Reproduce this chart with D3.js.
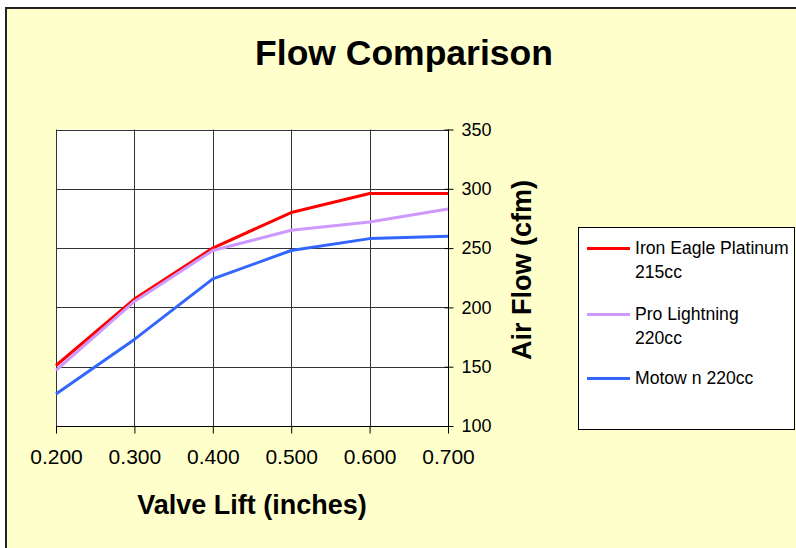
<!DOCTYPE html>
<html>
<head>
<meta charset="utf-8">
<script src="https://cdn.jsdelivr.net/npm/d3@7"></script>
<style>
  body { margin: 0; background: #ffffff; }
  svg { display: block; font-family: Arial, "Liberation Sans", sans-serif; }
</style>
</head>
<body>
<script>
// flow comparison chart

var lifts = [0.2, 0.3, 0.4, 0.5, 0.6, 0.7];
var seriesNames = ["Iron Eagle Platinum 215cc", "Pro Lightning 220cc", "Motow n 220cc"];
var legendLines = [["Iron Eagle Platinum", "215cc"], ["Pro Lightning", "220cc"], ["Motow n 220cc"]];
var ironEagle = [151, 207, 250, 280, 296, 296];
var proLightning = [147, 205, 248, 265, 272, 283];
var motown = [127, 173, 224, 248, 258, 260];
var yTicks = [100, 150, 200, 250, 300, 350];
var colors = ["#ff0000", "#cc99ff", "#3366ff"];

function draw_chart() {
    var width = 796;
    var height = 548;

    var svg = d3.select("body").append("svg")
                .attr("width", width)
                .attr("height", height);

    // chart background + border
    svg.append("rect")
        .attr("x", 6).attr("y", 8)
        .attr("width", 800).attr("height", 560)
        .attr("fill", "#ffffcc")
        .attr("stroke", "#222")
        .attr("stroke-width", 2);

    var left = 56, top = 129.5, right = 448, bottom = 426;

    var x = d3.scaleLinear().domain([0.2, 0.7]).range([left, right]);
    var y = d3.scaleLinear().domain([100, 350]).range([bottom, top]);

    // plot area
    svg.append("rect")
        .attr("x", left).attr("y", top)
        .attr("width", right - left).attr("height", bottom - top)
        .attr("fill", "#ffffff");

    // grid
    svg.append("g")
        .selectAll("line.v")
        .data(lifts)
        .enter()
        .append("line")
        .attr("x1", function(d) { return Math.round(x(d)) + 0.5; })
        .attr("x2", function(d) { return Math.round(x(d)) + 0.5; })
        .attr("y1", top).attr("y2", bottom)
        .attr("stroke", "#333").attr("stroke-width", 1);

    svg.append("g")
        .selectAll("line.h")
        .data(yTicks)
        .enter()
        .append("line")
        .attr("x1", left).attr("x2", right)
        .attr("y1", function(d) { return Math.round(y(d)) + 0.5; })
        .attr("y2", function(d) { return Math.round(y(d)) + 0.5; })
        .attr("stroke", "#333").attr("stroke-width", 1);

    // x axis
    var xAxis = d3.axisBottom(x)
                  .tickValues(lifts)
                  .tickFormat(d3.format(".3f"))
                  .tickSize(7)
                  .tickPadding(16);
    var gx = svg.append("g")
        .attr("transform", "translate(0," + (bottom + 0.5) + ")")
        .call(xAxis);
    gx.select(".domain").attr("stroke", "#000").attr("d", "M" + left + ",0H" + (right + 5));
    gx.selectAll(".tick line").attr("stroke", "#000");
    gx.selectAll("text")
        .attr("font-size", "21px")
        .attr("font-family", "Arial, 'Liberation Sans', sans-serif")
        .attr("fill", "#000");

    // y axis on the right
    var yAxis = d3.axisRight(y)
                  .tickValues(yTicks)
                  .tickSize(5)
                  .tickPadding(8);
    var gy = svg.append("g")
        .attr("transform", "translate(" + (right + 0.5) + ",0)")
        .call(yAxis);
    gy.select(".domain").attr("stroke", "#000").attr("d", "M0," + top + "V" + (bottom + 7));
    gy.selectAll(".tick line").attr("stroke", "#000").attr("x1", -4);
    gy.selectAll("text")
        .attr("font-size", "18px")
        .attr("font-family", "Arial, 'Liberation Sans', sans-serif")
        .attr("fill", "#000");

    // lines
    var allSeries = [ironEagle, proLightning, motown];
    var line = d3.line()
                 .x(function(d, i) { return x(lifts[i]); })
                 .y(function(d) { return y(d); });

    svg.append("g")
        .selectAll("path")
        .data(allSeries)
        .enter()
        .append("path")
        .attr("d", line)
        .attr("fill", "none")
        .attr("stroke", function(d, i) { return colors[i]; })
        .attr("stroke-width", 3)
        .attr("stroke-linejoin", "round");

    // title
    svg.append("text")
        .attr("x", 404).attr("y", 65)
        .attr("text-anchor", "middle")
        .attr("font-size", "35.5px")
        .attr("font-weight", "bold")
        .text("Flow Comparison");

    // axis titles
    svg.append("text")
        .attr("x", (left + right) / 2).attr("y", 514)
        .attr("text-anchor", "middle")
        .attr("font-size", "27px")
        .attr("font-weight", "bold")
        .text("Valve Lift (inches)");

    svg.append("text")
        .attr("transform", "translate(531,270) rotate(-90)")
        .attr("text-anchor", "middle")
        .attr("font-size", "27px")
        .attr("font-weight", "bold")
        .text("Air Flow (cfm)");

    // legend
    svg.append("rect")
        .attr("x", 578.5).attr("y", 227.5)
        .attr("width", 216).attr("height", 202)
        .attr("fill", "#ffffff")
        .attr("stroke", "#000").attr("stroke-width", 1);

    var legendY = [248.5, 314.5, 378.5];
    var items = svg.append("g")
        .selectAll("g")
        .data(seriesNames)
        .enter()
        .append("g")
        .attr("transform", function(d, i) { return "translate(0," + legendY[i] + ")"; });

    items.append("line")
        .attr("x1", 587).attr("x2", 630)
        .attr("y1", 0).attr("y2", 0)
        .attr("stroke", function(d, i) { return colors[i]; })
        .attr("stroke-width", 3);

    items.append("text")
        .attr("x", 635).attr("y", 5)
        .attr("font-size", "17.6px")
        .attr("fill", "#000")
        .each(function(d, i) {
            var t = d3.select(this);
            legendLines[i].forEach(function(s, j) {
                t.append("tspan")
                 .attr("x", 635)
                 .attr("dy", j === 0 ? 0 : 24)
                 .text(s);
            });
        });
}

document.addEventListener("DOMContentLoaded", draw_chart);
</script>
</body>
</html>
